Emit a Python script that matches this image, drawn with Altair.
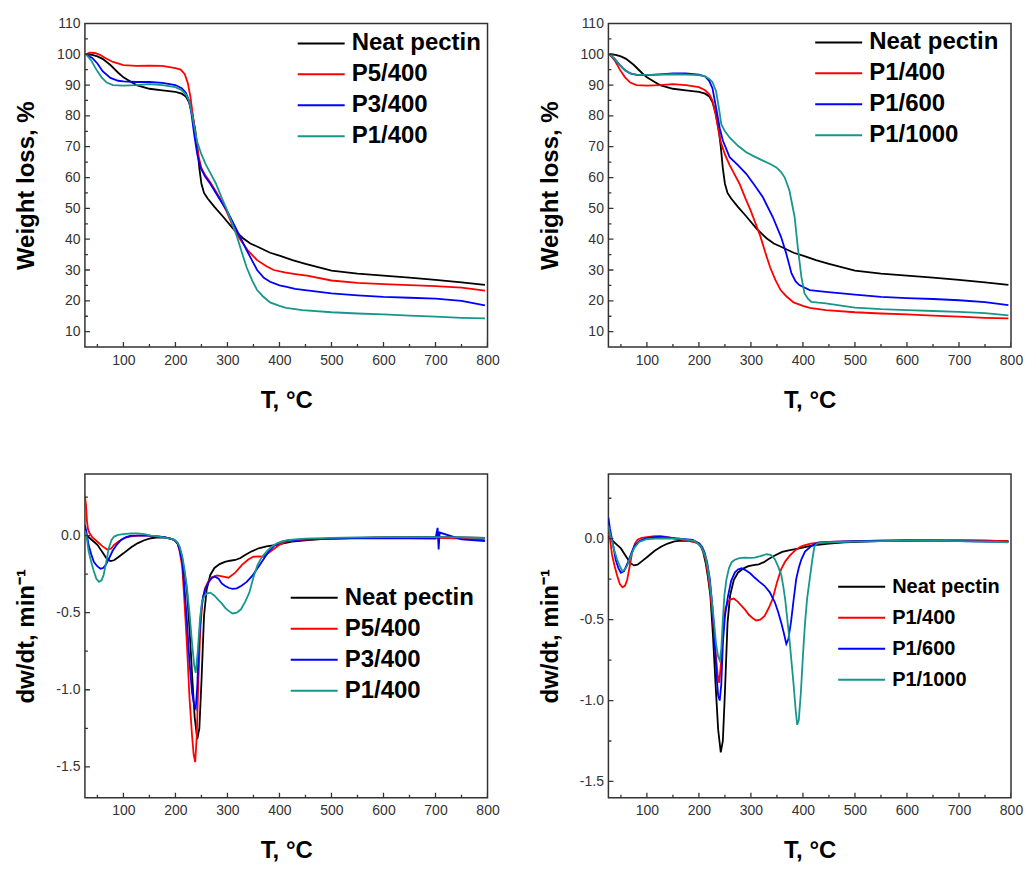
import altair as alt
import pandas as pd

FONT = "Liberation Sans, Arial, Helvetica, sans-serif"

# ---------------- TGA curves (weight loss, %) ----------------
T_NEAT_TG = [28, 40, 50, 60, 75, 90, 100, 115, 125, 150, 175, 200, 212, 220, 226, 232, 238, 242, 246, 250,
             255, 262, 275, 290, 312, 330, 344, 360, 382, 400, 425, 450, 500, 550, 600, 650, 700, 750, 795]
W_NEAT_TG = [100, 99.8, 99.3, 98.5, 96.5, 94.0, 92.5, 91.0, 90.0, 88.8, 88.3, 87.8, 87.2, 86.3, 84.5, 81.0, 75.5, 70.0, 63.0, 58.0,
             55.0, 53.2, 50.5, 47.6, 43.2, 40.3, 38.6, 37.4, 35.6, 34.7, 33.2, 32.0, 29.8, 28.8, 28.2, 27.5, 26.8, 26.0, 25.2]

T_P5_TG = [28, 35, 45, 55, 65, 80, 100, 125, 150, 175, 200, 210, 218, 224, 229, 234, 240, 245, 250, 257,
           267, 285, 299, 312, 325, 340, 357, 375, 389, 410, 430, 453, 500, 550, 600, 650, 700, 750, 795]
W_P5_TG = [100, 100.5, 100.4, 99.8, 98.8, 97.5, 96.5, 96.2, 96.3, 96.2, 95.5, 95.0, 93.5, 90.5, 86.0, 79.5, 71.5, 66.5, 63.0, 60.8,
           58.5, 53.5, 48.8, 43.5, 39.8, 36.2, 33.2, 31.2, 30.0, 29.2, 28.7, 28.2, 26.6, 25.8, 25.4, 25.1, 24.8, 24.3, 23.3]

T_P3_TG = [28, 40, 50, 60, 75, 90, 100, 125, 150, 175, 200, 212, 220, 226, 231, 236, 242, 248, 257, 267,
           283, 299, 318, 337, 357, 370, 382, 400, 414, 430, 453, 500, 550, 600, 650, 700, 750, 795]
W_P3_TG = [100, 98.8, 97.0, 94.5, 92.3, 91.4, 91.2, 91.0, 91.0, 90.7, 90.0, 89.0, 87.5, 85.0, 80.5, 74.1, 67.5, 63.3, 60.3, 58.0,
           53.5, 49.3, 42.9, 36.4, 30.0, 27.5, 26.2, 25.0, 24.5, 23.9, 23.4, 22.4, 21.8, 21.3, 21.0, 20.7, 20.0, 18.5]

T_P1_400_TG = [28, 38, 48, 58, 68, 80, 100, 125, 150, 175, 200, 212, 220, 226, 232, 238, 242, 250, 259, 267,
               278, 290, 299, 308, 318, 328, 337, 347, 357, 368, 382, 400, 413, 444, 500, 550, 600, 650, 700, 750, 795]
W_P1_400_TG = [100, 98.0, 95.0, 92.5, 90.8, 90.0, 89.8, 90.0, 90.3, 90.0, 89.3, 88.3, 87.0, 85.0, 80.5, 75.0, 71.5, 67.5, 64.0, 61.5,
               58.0, 53.0, 49.5, 45.5, 41.0, 35.5, 30.8, 26.8, 23.5, 21.5, 19.5, 18.4, 17.7, 17.0, 16.3, 15.9, 15.6, 15.2, 14.9, 14.5, 14.3]

T_P1_600_TG = [28, 38, 48, 58, 68, 80, 100, 125, 150, 175, 200, 212, 220, 226, 233, 240, 246, 259, 275, 291,
               307, 323, 342, 358, 368, 378, 386, 393, 413, 444, 500, 550, 600, 650, 700, 750, 795]
W_P1_600_TG = [100, 98.5, 96.5, 94.8, 93.8, 93.3, 93.2, 93.5, 93.8, 93.8, 93.4, 92.8, 91.3, 89.0, 82.7, 76.0, 72.0, 66.6, 64.0, 61.2,
               57.5, 53.6, 47.2, 40.7, 35.3, 28.9, 26.3, 25.1, 23.5, 22.9, 22.0, 21.3, 20.9, 20.6, 20.2, 19.6, 18.6]

T_P1_1000_TG = [28, 38, 48, 58, 68, 80, 100, 125, 150, 175, 200, 212, 220, 226, 233, 238, 243, 250, 259, 275,
                291, 307, 323, 338, 349, 358, 365, 374, 384, 390, 397, 403, 410, 416, 430, 444, 470, 500, 550, 600,
                650, 700, 750, 795]
W_P1_1000_TG = [100, 98.5, 96.5, 94.8, 93.8, 93.4, 93.3, 93.4, 93.5, 93.4, 93.2, 92.8, 92.0, 91.0, 88.0, 83.0, 77.3, 75.0, 73.0, 70.3,
                68.2, 66.8, 65.5, 64.3, 63.3, 61.8, 60.0, 55.8, 47.2, 37.5, 27.8, 22.4, 20.6, 19.7, 19.4, 19.2, 18.5, 17.8, 17.3, 17.0,
                16.7, 16.4, 16.0, 15.3]

# ---------------- DTG curves (dw/dt, min^-1) ----------------
T_NEAT_DTG = [26, 30, 40, 50, 60, 68, 75, 82, 90, 100, 115, 127, 140, 153, 166, 179, 190, 198, 204, 208,
              213, 217, 222, 227, 232, 237, 242, 246, 250, 255, 260, 267, 275, 285, 295, 305, 315, 325, 334, 345,
              360, 375, 391, 410, 424, 450, 480, 520, 560, 600, 650, 700, 750, 795]
V_NEAT_DTG = [0.02, 0.0, -0.03, -0.06, -0.11, -0.15, -0.165, -0.16, -0.14, -0.115, -0.075, -0.05, -0.03, -0.017, -0.012, -0.013, -0.018, -0.028, -0.05, -0.08,
              -0.15, -0.23, -0.35, -0.6, -0.9, -1.18, -1.32, -1.25, -0.95, -0.52, -0.35, -0.255, -0.21, -0.185, -0.17, -0.163, -0.158, -0.145, -0.126, -0.105,
              -0.082, -0.07, -0.061, -0.048, -0.039, -0.03, -0.022, -0.018, -0.014, -0.012, -0.01, -0.01, -0.012, -0.015]

T_P5_DTG = [26, 28, 30, 32, 35, 40, 50, 60, 69, 76, 82, 90, 100, 115, 127, 150, 179, 198, 204, 208,
            213, 217, 222, 227, 232, 235, 238, 241, 244, 248, 252, 257, 263, 270, 280, 290, 302, 315, 328, 340,
            350, 360, 369, 380, 391, 400, 411, 430, 460, 500, 550, 600, 650, 700, 750, 795]
V_P5_DTG = [0.26, 0.2, 0.09, 0.04, 0.015, -0.01, -0.04, -0.07, -0.09, -0.085, -0.06, -0.04, -0.017, -0.005, 0.0, 0.0, -0.01, -0.028, -0.05, -0.1,
            -0.2, -0.41, -0.7, -1.05, -1.3, -1.42, -1.47, -1.3, -0.95, -0.6, -0.42, -0.34, -0.3, -0.27, -0.258, -0.265, -0.273, -0.24, -0.19, -0.155,
            -0.137, -0.135, -0.137, -0.11, -0.082, -0.06, -0.039, -0.03, -0.025, -0.02, -0.015, -0.012, -0.012, -0.015, -0.02, -0.03]

T_P3_DTG = [26, 29, 33, 38, 43, 50, 56, 61, 66, 72, 79, 87, 95, 105, 114, 130, 146, 165, 179, 198,
            204, 208, 213, 217, 222, 227, 232, 236, 239, 242, 245, 249, 253, 257, 264, 270, 276, 283, 289, 295,
            303, 310, 318, 327, 337, 348, 360, 370, 379, 390, 404, 420, 450, 500, 550, 600, 650, 700, 704, 706,
            708, 750, 795]
V_P3_DTG = [0.07, 0.02, -0.06, -0.12, -0.17, -0.2, -0.215, -0.21, -0.19, -0.15, -0.1, -0.06, -0.03, -0.01, 0.0, 0.0, 0.0, -0.005, -0.01, -0.028,
            -0.05, -0.09, -0.17, -0.32, -0.55, -0.82, -1.02, -1.1, -1.12, -0.98, -0.7, -0.5, -0.4, -0.35, -0.3, -0.275, -0.266, -0.28, -0.31, -0.325,
            -0.34, -0.345, -0.342, -0.325, -0.3, -0.26, -0.2, -0.15, -0.104, -0.065, -0.039, -0.03, -0.025, -0.02, -0.018, -0.018, -0.018, -0.02, 0.05, -0.09,
            0.02, -0.025, -0.035]

T_P1_400_DTG = [26, 29, 33, 38, 43, 48, 53, 58, 62, 67, 72, 77, 82, 90, 100, 115, 127, 140, 153, 166,
                179, 190, 198, 204, 208, 213, 217, 222, 227, 232, 236, 239, 243, 247, 251, 256, 261, 267, 275, 282,
                289, 296, 303, 310, 318, 326, 334, 342, 350, 358, 366, 376, 385, 395, 404, 415, 430, 450, 500, 550,
                600, 650, 700, 750, 795]
V_P1_400_DTG = [0.03, 0.0, -0.1, -0.17, -0.23, -0.28, -0.3, -0.29, -0.255, -0.17, -0.08, -0.03, -0.006, 0.005, 0.01, 0.015, 0.015, 0.01, 0.0, -0.005,
                -0.013, -0.02, -0.028, -0.045, -0.07, -0.13, -0.21, -0.33, -0.5, -0.7, -0.84, -0.89, -0.75, -0.55, -0.43, -0.39, -0.375, -0.37, -0.39, -0.415,
                -0.44, -0.47, -0.49, -0.505, -0.5, -0.478, -0.43, -0.37, -0.27, -0.19, -0.14, -0.1, -0.072, -0.05, -0.04, -0.03, -0.025, -0.02, -0.015, -0.012,
                -0.01, -0.01, -0.01, -0.012, -0.015]

T_P1_600_DTG = [26, 29, 34, 40, 45, 50, 56, 63, 70, 76, 85, 98, 110, 124, 140, 162, 188, 201, 206, 211,
                216, 221, 226, 230, 234, 237, 240, 243, 246, 250, 256, 262, 269, 275, 282, 290, 299, 307, 316, 326,
                336, 346, 352, 358, 363, 368, 372, 377, 382, 387, 392, 397, 404, 416, 429, 450, 500, 550, 600, 650,
                700, 750, 795]
V_P1_600_DTG = [0.13, 0.06, -0.02, -0.13, -0.18, -0.21, -0.2, -0.15, -0.09, -0.045, -0.015, 0.004, 0.008, 0.012, 0.008, 0.0, -0.008, -0.03, -0.05, -0.086,
                -0.15, -0.25, -0.42, -0.62, -0.85, -0.97, -1.0, -0.9, -0.65, -0.48, -0.353, -0.26, -0.209, -0.19, -0.183, -0.195, -0.215, -0.24, -0.265, -0.291,
                -0.33, -0.393, -0.45, -0.516, -0.58, -0.65, -0.62, -0.516, -0.38, -0.25, -0.18, -0.127, -0.08, -0.045, -0.025, -0.02, -0.015, -0.012, -0.01, -0.012,
                -0.015, -0.018, -0.02]

T_P1_1000_DTG = [26, 29, 34, 38, 43, 48, 53, 58, 63, 70, 76, 85, 98, 115, 130, 162, 191, 204, 209, 214,
                 219, 223, 228, 233, 237, 240, 243, 246, 249, 253, 258, 263, 269, 278, 288, 298, 307, 318, 330, 338,
                 346, 352, 358, 362, 366, 370, 374, 378, 382, 386, 389, 392, 396, 400, 404, 408, 413, 418, 422, 427,
                 435, 450, 500, 550, 600, 650, 700, 750, 795]
V_P1_1000_DTG = [0.08, 0.03, -0.03, -0.08, -0.13, -0.17, -0.2, -0.19, -0.16, -0.1, -0.055, -0.02, -0.004, 0.0, 0.002, 0.0, -0.014, -0.045, -0.08, -0.127,
                 -0.22, -0.33, -0.48, -0.65, -0.73, -0.752, -0.68, -0.5, -0.35, -0.25, -0.18, -0.145, -0.13, -0.12, -0.117, -0.118, -0.117, -0.108, -0.096, -0.1,
                 -0.127, -0.17, -0.22, -0.29, -0.38, -0.5, -0.62, -0.76, -0.9, -1.06, -1.15, -1.12, -0.95, -0.72, -0.52, -0.37, -0.25, -0.13, -0.05, -0.03,
                 -0.025, -0.022, -0.018, -0.015, -0.012, -0.012, -0.015, -0.018, -0.022]

BLACK, RED, BLUE, TEAL = "#000000", "#ff0000", "#0000ff", "#16968d"

X_DOMAIN = [26, 800]
X_MAJOR = [100, 200, 300, 400, 500, 600, 700, 800]
X_MINOR = [50, 150, 250, 350, 450, 550, 650, 750]
TG_DOMAIN = [5, 110]
TG_MAJOR = [10, 20, 30, 40, 50, 60, 70, 80, 90, 100, 110]
TG_MINOR = [15, 25, 35, 45, 55, 65, 75, 85, 95, 105]
DTG_MAJOR = [-1.5, -1.0, -0.5, 0.0]
DTG_MINOR = [-1.25, -0.75, -0.25, 0.25]

W, H = 403, 324
AXIS_GRAY = "#333333"


def make_df(series):
    rows = []
    for name, ts, vs in series:
        for i, (t, v) in enumerate(zip(ts, vs, strict=True)):
            rows.append({"series": name, "T": t, "V": v, "i": i})
    return pd.DataFrame(rows)


def panel(series, colors, ydomain, ymajor, yminor, ytitle, dtg, lx, ly, lfont=24):
    df = make_df(series)
    names = [s[0] for s in series]
    xscale = alt.Scale(domain=X_DOMAIN, nice=False, zero=False)
    yscale = alt.Scale(domain=ydomain, nice=False, zero=False)
    yaxis_kwargs = dict(
        orient="left", values=ymajor, ticks=False, tickSize=0, domain=False, grid=False,
        labelPadding=5, labelFont=FONT, labelFontSize=14, labelColor=AXIS_GRAY, labelFlush=False,
        title=ytitle, titleFont=FONT, titleFontSize=24, titleFontWeight="bold", titleColor="#000",
        titleX=-51, titleBaseline="alphabetic",
    )
    if dtg:
        yaxis_kwargs["labelExpr"] = "replace(format(datum.value, '.1f'), '\u2212', '-')"
    lines = alt.Chart(df).mark_line(strokeWidth=1.8, clip=True).encode(
        x=alt.X("T:Q", scale=xscale, axis=alt.Axis(
            orient="bottom", values=X_MAJOR, ticks=False, tickSize=0, domain=False, grid=False,
            labelPadding=6, labelFont=FONT, labelFontSize=14, labelColor=AXIS_GRAY, labelFlush=False,
            title="T, °C", titleFont=FONT, titleFontSize=24, titleFontWeight="bold", titleColor="#000",
            titleY=60, titleBaseline="alphabetic")),
        y=alt.Y("V:Q", scale=yscale, axis=alt.Axis(**yaxis_kwargs)),
        color=alt.Color("series:N", scale=alt.Scale(domain=names, range=colors), legend=alt.Legend(
            orient="none", legendX=lx, legendY=ly, title=None, symbolType="stroke",
            symbolSize=2209, symbolStrokeWidth=2, clipHeight=24, rowPadding=7, padding=0,
            labelFont=FONT, labelFontSize=lfont, labelFontWeight="bold", labelColor="#000",
            labelOffset=6, labelLimit=400)),
        order=alt.Order("i:Q"),
    )

    # inward ticks: tick marks centred on the bottom / left frame edge, clipped to the plot area
    def xticks(values, length):
        return alt.Chart(pd.DataFrame({"T": values})).mark_tick(
            orient="vertical", size=2 * length, thickness=1.3, color=AXIS_GRAY, clip=True, opacity=1
        ).encode(
            x=alt.X("T:Q", scale=xscale, axis=None),
            y=alt.YDatum(ydomain[0], type="quantitative", scale=yscale, axis=None),
        )

    def yticks(values, length):
        return alt.Chart(pd.DataFrame({"V": values})).mark_tick(
            orient="horizontal", size=2 * length, thickness=1.3, color=AXIS_GRAY, clip=True, opacity=1
        ).encode(
            y=alt.Y("V:Q", scale=yscale, axis=None),
            x=alt.XDatum(X_DOMAIN[0], type="quantitative", scale=xscale, axis=None),
        )

    return alt.layer(
        lines, xticks(X_MAJOR, 5), xticks(X_MINOR, 3), yticks(ymajor, 5), yticks(yminor, 3)
    ).resolve_axis(x="independent", y="independent").properties(width=W, height=H)


p1 = panel([("Neat pectin", T_NEAT_TG, W_NEAT_TG), ("P5/400", T_P5_TG, W_P5_TG),
            ("P3/400", T_P3_TG, W_P3_TG), ("P1/400", T_P1_400_TG, W_P1_400_TG)],
           [BLACK, RED, BLUE, TEAL], TG_DOMAIN, TG_MAJOR, TG_MINOR, "Weight loss, %", False, 212, 8)
p2 = panel([("Neat pectin", T_NEAT_TG, W_NEAT_TG), ("P1/400", T_P1_400_TG, W_P1_400_TG),
            ("P1/600", T_P1_600_TG, W_P1_600_TG), ("P1/1000", T_P1_1000_TG, W_P1_1000_TG)],
           [BLACK, RED, BLUE, TEAL], TG_DOMAIN, TG_MAJOR, TG_MINOR, "Weight loss, %", False, 206, 7)
p3 = panel([("Neat pectin", T_NEAT_DTG, V_NEAT_DTG), ("P5/400", T_P5_DTG, V_P5_DTG),
            ("P3/400", T_P3_DTG, V_P3_DTG), ("P1/400", T_P1_400_DTG, V_P1_400_DTG)],
           [BLACK, RED, BLUE, TEAL], [-1.7, 0.4], DTG_MAJOR, DTG_MINOR, "dw/dt, min\u207b\u00b9", True, 205, 112)
p4 = panel([("Neat pectin", T_NEAT_DTG, V_NEAT_DTG), ("P1/400", T_P1_400_DTG, V_P1_400_DTG),
            ("P1/600", T_P1_600_DTG, V_P1_600_DTG), ("P1/1000", T_P1_1000_DTG, V_P1_1000_DTG)],
           [BLACK, RED, BLUE, TEAL], [-1.6, 0.4], DTG_MAJOR, DTG_MINOR, "dw/dt, min\u207b\u00b9", True, 229, 101, 20)

chart = alt.concat(p1, p2, p3, p4, columns=2, spacing={"row": 127, "column": 121}, bounds="flush").resolve_scale(
    color="independent", x="independent", y="independent"
).configure_view(stroke=AXIS_GRAY, strokeWidth=1.5).properties(
    padding={"left": 6, "top": 7, "right": 0, "bottom": 4}, background="white"
)

chart.save("out.html", embed_options={"renderer": "svg", "actions": False})
